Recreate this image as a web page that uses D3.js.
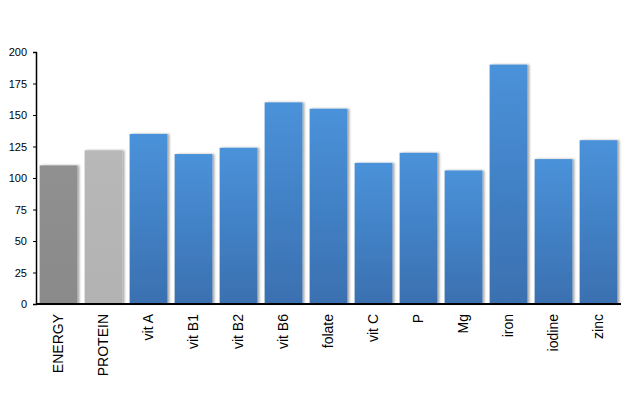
<!DOCTYPE html>
<html>
<head>
<meta charset="utf-8">
<script src="https://cdn.jsdelivr.net/npm/d3@7"></script>
<style>
  body { margin: 0; background: #fff; }
  svg text { font-family: "Liberation Sans", Arial, sans-serif; }
</style>
</head>
<body>
<svg id="chart" width="641" height="420"></svg>
<script>
const nutrients = ['ENERGY', 'PROTEIN', 'vit A', 'vit B1', 'vit B2', 'vit B6', 'folate',
  'vit C', 'P', 'Mg', 'iron', 'iodine', 'zinc'];
const values = [110, 122, 135, 119, 124, 160, 155, 112, 120, 106, 190, 115, 130];
const yTicks = [0, 25, 50, 75, 100, 125, 150, 175, 200];

const svg = d3.select('#chart');
const margin = {top: 52, right: 20, bottom: 116, left: 36};
const width = 641 - margin.left - margin.right;
const height = 420 - margin.top - margin.bottom;

// gradients for the bars
const defs = svg.append('defs');
function grad(id, top, bottom) {
  const g = defs.append('linearGradient').attr('id', id)
    .attr('x1', 0).attr('y1', 0).attr('x2', 0).attr('y2', 1);
  g.append('stop').attr('offset', '0%').attr('stop-color', top);
  g.append('stop').attr('offset', '100%').attr('stop-color', bottom);
}
grad('blue', '#4a92da', '#3a70b0');
grad('dark', '#909090', '#8a8a8a');
grad('light', '#b8b8b8', '#b2b2b2');
const shadow = defs.append('filter').attr('id', 'shadow')
  .attr('x', '-10%').attr('y', '-10%').attr('width', '130%').attr('height', '120%');
shadow.append('feDropShadow').attr('dx', 2).attr('dy', 0)
  .attr('stdDeviation', 1.2).attr('flood-color', '#000').attr('flood-opacity', 0.35);

const g = svg.append('g').attr('transform', `translate(${margin.left},${margin.top})`);

const x = d3.scaleBand()
  .domain(nutrients)
  .range([0, width])
  .paddingInner(0.16)
  .paddingOuter(0.08);

const y = d3.scaleLinear()
  .domain([0, 200])
  .range([height, 0]);

g.selectAll('rect.bar')
  .data(nutrients)
  .enter()
  .append('rect')
  .attr('class', 'bar')
  .attr('x', d => x(d))
  .attr('y', (d, i) => y(values[i]))
  .attr('width', x.bandwidth())
  .attr('height', (d, i) => height - y(values[i]))
  .attr('fill', (d, i) => i == 0 ? 'url(#dark)' : i == 1 ? 'url(#light)' : 'url(#blue)')
  .attr('filter', 'url(#shadow)');

// y axis
const yAxis = g.append('g')
  .call(d3.axisLeft(y).tickValues(yTicks).tickSize(3).tickPadding(6));
yAxis.select('.domain').attr('stroke', '#000').attr('stroke-width', 1.5);
yAxis.selectAll('text').attr('font-size', 11).attr('fill', '#000');

// x axis
const xAxis = g.append('g')
  .attr('transform', `translate(0,${height})`)
  .call(d3.axisBottom(x).tickSize(0).tickPadding(0));
xAxis.select('.domain').attr('stroke', '#000').attr('stroke-width', 2)
  .attr('d', `M0,0H${width}`);
xAxis.selectAll('text')
  .attr('font-size', 14)
  .attr('fill', '#000')
  .attr('transform', 'rotate(-90)')
  .attr('text-anchor', 'end')
  .attr('x', -10)
  .attr('y', 0)
  .attr('dy', '0.35em');
</script>
</body>
</html>
